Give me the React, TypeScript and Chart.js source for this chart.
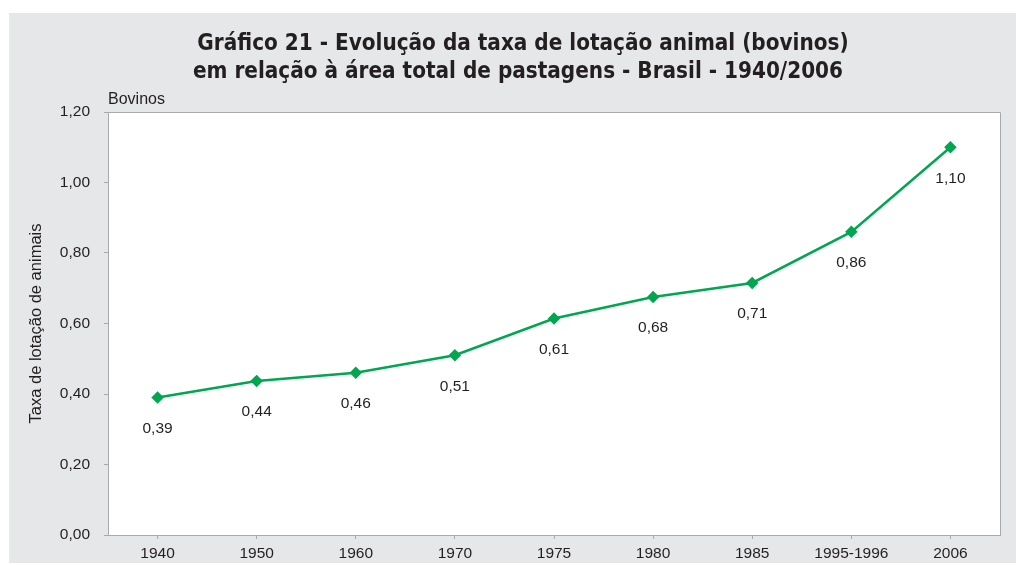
import React, { useEffect, useRef } from "react";
import { Chart, registerables } from "chart.js";

Chart.register(...registerables);

const categories = ["1940", "1950", "1960", "1970", "1975", "1980", "1985", "1995-1996", "2006"];
const values = [0.39, 0.437, 0.46, 0.51, 0.614, 0.675, 0.715, 0.86, 1.1];
const valueLabels = ["0,39", "0,44", "0,46", "0,51", "0,61", "0,68", "0,71", "0,86", "1,10"];
const yTicks = [0, 0.2, 0.4, 0.6, 0.8, 1.0, 1.2];
const titleLines = [
  "Gráfico 21 - Evolução da taxa de lotação animal (bovinos)",
  "em relação à área total de pastagens - Brasil - 1940/2006",
];
const unitLabel = "Bovinos";
const yAxisTitle = "Taxa de lotação de animais";

const TEXT = "#231f20";
const GREEN = "#00a650";
const AXIS = "#a7a9ac";
const BG = "#e6e7e8";
const FONT = '"Liberation Sans", Arial, sans-serif';
const TITLE_FONT = '"DejaVu Sans Condensed", "Liberation Sans Narrow", sans-serif';

const fmt = (v: number) => v.toFixed(2).replace(".", ",");

export default function App() {
  const ref = useRef<HTMLCanvasElement | null>(null);

  useEffect(() => {
    if (!ref.current) return;
    const decor = {
      id: "decor",
      beforeDraw(chart: any) {
        const { ctx, chartArea: a } = chart;
        ctx.save();
        ctx.fillStyle = "#ffffff";
        ctx.fillRect(a.left, a.top, a.right - a.left, a.bottom - a.top);
        ctx.restore();
      },
      afterDraw(chart: any) {
        const { ctx, chartArea: a } = chart;
        ctx.save();
        ctx.strokeStyle = AXIS;
        ctx.lineWidth = 1;
        ctx.beginPath();
        ctx.moveTo(a.left, a.top + 0.5);
        ctx.lineTo(a.right + 0.5, a.top + 0.5);
        ctx.lineTo(a.right + 0.5, a.bottom);
        ctx.stroke();
        // title
        ctx.fillStyle = TEXT;
        ctx.textAlign = "center";
        ctx.textBaseline = "middle";
        ctx.font = `bold 22.3px ${TITLE_FONT}`;
        ctx.fillText(titleLines[0], 514, 31);
        ctx.fillText(titleLines[1], 509, 59);
        // unit label
        ctx.font = `16px ${FONT}`;
        ctx.textAlign = "left";
        ctx.fillText(unitLabel, a.left, a.top - 12);
        // data labels
        const meta = chart.getDatasetMeta(0);
        ctx.font = `15.5px ${FONT}`;
        ctx.textAlign = "center";
        meta.data.forEach((el: any, i: number) => {
          ctx.fillText(valueLabels[i], el.x, el.y + 31);
        });
        ctx.restore();
      },
    };

    const chart = new Chart(ref.current, {
      type: "line",
      data: {
        labels: categories,
        datasets: [
          {
            data: values,
            borderColor: GREEN,
            backgroundColor: GREEN,
            borderWidth: 2.5,
            pointStyle: "rectRot",
            pointRadius: 4.5,
            pointHoverRadius: 4.5,
            tension: 0,
          },
        ],
      },
      options: {
        responsive: false,
        animation: false,
        layout: { padding: { top: 99, right: 16, left: 0, bottom: 0 } },
        plugins: {
          legend: { display: false },
          title: { display: false },
          tooltip: { enabled: false },
        },
        scales: {
          x: {
            offset: true,
            grid: { offset: false, drawOnChartArea: false, drawTicks: true, tickLength: 4, color: AXIS },
            border: { display: true, color: AXIS },
            ticks: {
              autoSkip: false,
              maxRotation: 0,
              padding: 5,
              color: TEXT,
              font: { family: FONT, size: 15.5 },
            },
            afterFit: (s: any) => {
              s.height = 28;
            },
          },
          y: {
            min: 0,
            max: 1.2,
            afterBuildTicks: (s: any) => {
              s.ticks = yTicks.map((v) => ({ value: v }));
            },
            grid: { drawOnChartArea: false, drawTicks: true, tickLength: 4, color: AXIS },
            border: { display: true, color: AXIS },
            ticks: {
              padding: 14,
              color: TEXT,
              font: { family: FONT, size: 15.5 },
              callback: (v: any) => fmt(Number(v)),
            },
            title: {
              display: true,
              text: yAxisTitle,
              color: TEXT,
              font: { family: FONT, size: 16.5 },
              padding: { top: 18, bottom: 0 },
            },
            afterFit: (s: any) => {
              s.width = 99;
            },
          },
        },
      },
      plugins: [decor],
    });
    return () => chart.destroy();
  }, []);

  return (
    <div style={{ position: "absolute", left: 0, top: 0, width: 1016, height: 565, background: "#ffffff" }}>
      <div style={{ position: "absolute", left: 9, top: 13, width: 1007, height: 550, background: BG }}>
        <canvas ref={ref} width={1007} height={550} style={{ display: "block" }} />
      </div>
    </div>
  );
}
